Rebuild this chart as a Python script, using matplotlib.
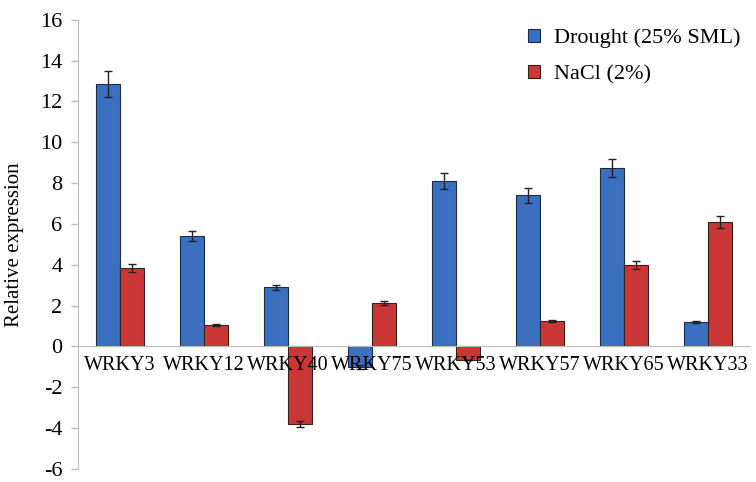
import matplotlib
matplotlib.use("Agg")
import matplotlib.pyplot as plt
import numpy as np

genes = ["WRKY3", "WRKY12", "WRKY40", "WRKY75", "WRKY53", "WRKY57", "WRKY65", "WRKY33"]
drought = [12.85, 5.4, 2.9, -1.0, 8.1, 7.4, 8.75, 1.2]
drought_err = [0.65, 0.25, 0.12, 0.1, 0.4, 0.35, 0.45, 0.05]
nacl = [3.85, 1.05, -3.8, 2.15, -0.65, 1.25, 4.0, 6.1]
nacl_err = [0.2, 0.05, 0.15, 0.1, 0.0, 0.05, 0.2, 0.3]

plt.rcParams['font.family'] = ['Liberation Serif', 'DejaVu Serif']
plt.rcParams['axes.unicode_minus'] = False

fig = plt.figure(figsize=(7.56, 4.82), dpi=100)
ax = fig.add_axes([0.103, 0.027, 0.889, 0.932])

x = np.arange(len(genes))
w = 0.285
ekw = dict(ecolor='#222222', elinewidth=1.0, capsize=3, capthick=1.0, zorder=1.2)
ax.bar(x - w/2, drought, w, yerr=drought_err, color='#3b6fc0', edgecolor='#1f2a44',
       linewidth=0.8, label='Drought (25% SML)', error_kw=ekw, zorder=1)
ax.bar(x + w/2, nacl, w, yerr=nacl_err, color='#c93636', edgecolor='#3a1f1f',
       linewidth=0.8, label='NaCl (2%)', error_kw=ekw, zorder=1)

ax.set_xlim(-0.5, len(genes) - 0.5)
ax.set_ylim(-6, 16)
ax.set_yticks(np.arange(-6, 17, 2))
ax.tick_params(axis='y', labelsize=16, length=5, color='#bbbbbb', width=1, pad=6)

ax.spines['bottom'].set_position(('data', 0))
ax.spines['bottom'].set_color('#bbbbbb')
ax.spines['left'].set_color('#bbbbbb')
ax.spines['top'].set_visible(False)
ax.spines['right'].set_visible(False)

ax.set_xticks(x)
ax.set_xticklabels(genes, fontsize=14.5)
ax.tick_params(axis='x', length=0, pad=7)
ax.xaxis.set_zorder(3)

ax.set_ylabel('Relative expression', fontsize=15, labelpad=12)

leg = ax.legend(loc='upper right', bbox_to_anchor=(1.015, 1.025), frameon=False, fontsize=16,
                handlelength=0.55, handleheight=0.55, labelspacing=0.75, handletextpad=0.6)

fig.savefig('out.png', dpi=100)
